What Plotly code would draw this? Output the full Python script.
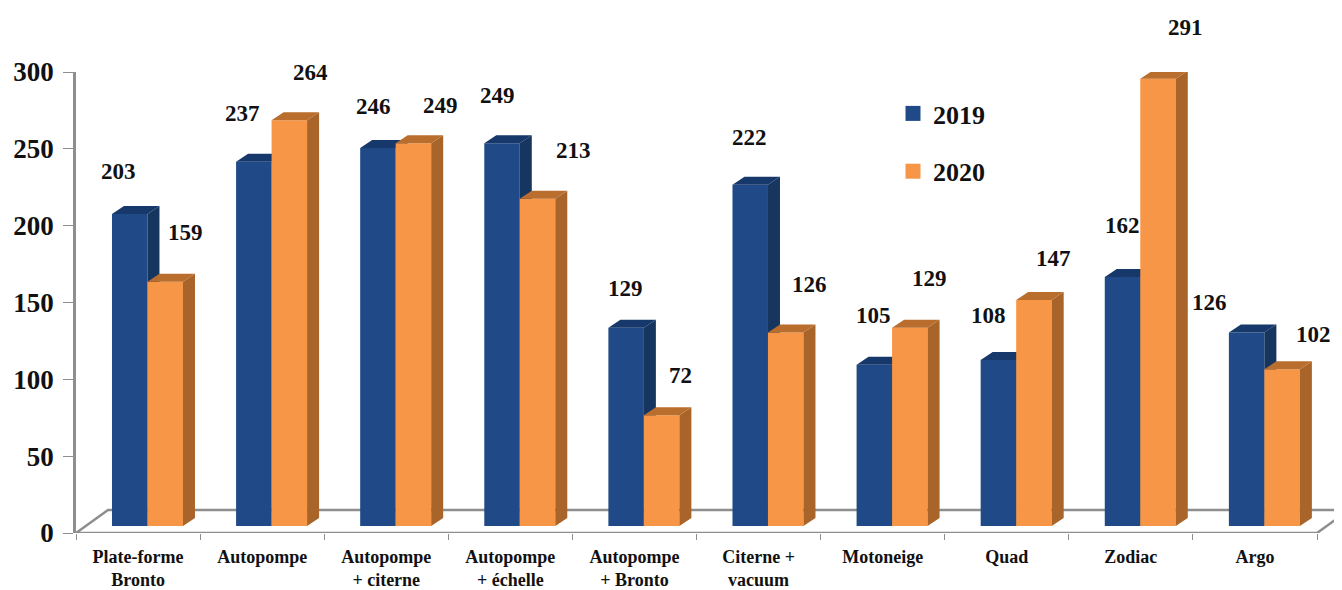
import plotly.graph_objects as go

categories = ["Plate-forme<br>Bronto", "Autopompe", "Autopompe<br>+ citerne", "Autopompe<br>+ échelle",
              "Autopompe<br>+ Bronto", "Citerne +<br>vacuum", "Motoneige", "Quad", "Zodiac", "Argo"]
values_2019 = [203, 237, 246, 249, 129, 222, 105, 108, 162, 126]
values_2020 = [159, 264, 249, 213, 72, 126, 129, 147, 291, 102]

# label placement, separate from the data (pixels relative to front-top centre of each bar)
label_dx_2019 = [-11, -11, -4, -5, -1, -1, -1, -10, 0, -37]
label_dy_2019 = [43, 48, 41, 48, 39, 47, 49, 45, 52, 30]
label_dx_2020 = [20, 21, 27, 36, 19, 24, 20, 20, 27, 31]
label_dy_2020 = [49, 48, 38, 48, 40, 48, 49, 42, 51, 35]

# the page body has an 8px margin, so the figure is 8px smaller than the window
PAGE = 8
W, H = 1342 - PAGE, 590 - PAGE
AXIS_LEFT, AXIS_TOP, AXIS_BOTTOM = 76 - PAGE, 72 - PAGE, 533 - PAGE
PX_X = 124.1
PX_Y = (AXIS_BOTTOM - AXIS_TOP) / 300
PLOT_W = W - AXIS_LEFT
BAR_W = 35.5 / PX_X
GROUP_SHIFT = 0.576
DX = 12 / PX_X
DY = 8 / PX_Y
FLOOR_DX = 32 / PX_X
FLOOR_DY = 23 / PX_Y
BASE_SHIFT = 7 / PX_Y
SERIF = "Liberation Serif"

NAVY, NAVY_SIDE, NAVY_TOP = "#1F4A87", "#16355F", "#17386A"
ORANGE, ORANGE_SIDE, ORANGE_TOP = "#F79646", "#A9642A", "#B96E2E"
GREY = "#8E8E8E"

fig = go.Figure()

# floor
n = len(categories)
xmax = PLOT_W / PX_X
fig.add_trace(go.Scatter(
    x=[xmax, FLOOR_DX, 0, n, n + FLOOR_DX * 0.8],
    y=[FLOOR_DY, FLOOR_DY, 0, 0, FLOOR_DY * 0.8],
    mode="lines", line=dict(color=GREY, width=2.5), showlegend=False,
    hoverinfo="skip", cliponaxis=False, yaxis="y"))


def add_series(name, vals, offset, front, side, top, yaxis):
    xs = [i + GROUP_SHIFT + offset for i in range(n)]
    fig.add_trace(go.Bar(x=xs, y=vals, width=BAR_W, name=name, marker=dict(color=front, line=dict(width=0)),
                         cliponaxis=False, yaxis=yaxis, showlegend=False))
    sx, sy, tx, ty = [], [], [], []
    for x, v in zip(xs, vals):
        r = x + BAR_W / 2
        l = x - BAR_W / 2
        sx += [r, r + DX, r + DX, r, r, None]
        sy += [0, DY, v + DY, v, 0, None]
        tx += [l, l + DX, r + DX, r, l, None]
        ty += [v, v + DY, v + DY, v, v, None]
    for px_, py_, c in ((sx, sy, side), (tx, ty, top)):
        fig.add_trace(go.Scatter(x=px_, y=py_, mode="lines", fill="toself", fillcolor=c,
                                 line=dict(width=0, color=c), showlegend=False, hoverinfo="skip",
                                 cliponaxis=False, yaxis=yaxis))
    # legend entry only: gives the larger square swatch of the reference
    fig.add_trace(go.Scatter(x=[None], y=[None], mode="markers", name=name, legendgroup=name,
                             marker=dict(symbol="square", size=15, color=front), yaxis=yaxis))
    return xs


xs19 = add_series("2019", values_2019, -BAR_W / 2, NAVY, NAVY_SIDE, NAVY_TOP, "y2")
xs20 = add_series("2020", values_2020, BAR_W / 2, ORANGE, ORANGE_SIDE, ORANGE_TOP, "y3")

for xs, vals, dxs, dys in ((xs19, values_2019, label_dx_2019, label_dy_2019),
                           (xs20, values_2020, label_dx_2020, label_dy_2020)):
    for x, v, dx, dy in zip(xs, vals, dxs, dys):
        fig.add_annotation(x=x, y=v, xref="x", yref="y3", text=str(v), showarrow=False,
                           xshift=dx, yshift=dy, xanchor="center", yanchor="middle",
                           font=dict(family=SERIF, size=23, color="#111111", weight="bold"))

bars_range = [-BASE_SHIFT, 300 - BASE_SHIFT]
hidden = dict(range=bars_range, overlaying="y", visible=False, fixedrange=True)

fig.update_layout(
    width=W, height=H,
    margin=dict(l=AXIS_LEFT, r=0, t=AXIS_TOP, b=H - AXIS_BOTTOM, pad=0, autoexpand=False),
    paper_bgcolor="white", plot_bgcolor="white", barmode="overlay",
    xaxis=dict(range=[0, xmax], tickmode="array", tickvals=[i + 0.5 for i in range(n)], ticktext=categories,
               ticks="", showline=False, showgrid=False, zeroline=False, ticklabelstandoff=11,
               tickfont=dict(family=SERIF, size=18, color="#111111", weight="bold"),
               minor=dict(tickmode="array", tickvals=list(range(n + 1)), ticks="outside", ticklen=6,
                          tickcolor=GREY, tickwidth=1, showgrid=False)),
    yaxis=dict(range=[0, 300], tickvals=[0, 50, 100, 150, 200, 250, 300], showgrid=False, zeroline=False,
               showline=True, linecolor=GREY, linewidth=2.5, ticks="outside", ticklen=10, tickcolor=GREY,
               tickwidth=1, ticklabelstandoff=4,
               tickfont=dict(family=SERIF, size=27, color="#111111", weight="bold")),
    yaxis2=hidden, yaxis3=hidden,
    legend=dict(x=(893 - AXIS_LEFT - PAGE) / PLOT_W, y=1 - (90 - AXIS_TOP - PAGE) / (AXIS_BOTTOM - AXIS_TOP),
                xanchor="left", yanchor="top",
                bgcolor="rgba(0,0,0,0)", tracegroupgap=21, itemwidth=30,
                font=dict(family=SERIF, size=26, color="#111111", weight="bold")),
)

fig.write_html("out.html")
